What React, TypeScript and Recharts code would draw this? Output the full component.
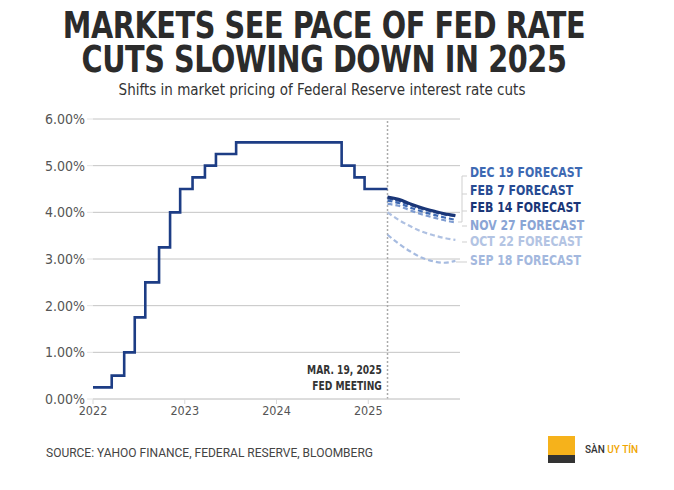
import React from "react";
import { LineChart, Line, XAxis, YAxis, CartesianGrid, ReferenceLine } from "recharts";

const rateDates = [2022.0, 2022.204, 2022.34, 2022.455, 2022.57, 2022.72, 2022.84, 2022.95, 2023.085, 2023.22, 2023.34, 2023.56, 2024.71, 2024.85, 2024.96, 2025.21];
const rateValues = [0.25, 0.5, 1.0, 1.75, 2.5, 3.25, 4.0, 4.5, 4.75, 5.0, 5.25, 5.5, 5.0, 4.75, 4.5, 4.5];

const fcDates = [2025.21, 2025.33, 2025.46, 2025.58, 2025.71, 2025.83, 2025.95];
const feb14 = [4.33, 4.28, 4.18, 4.1, 4.03, 3.97, 3.93];
const feb7 = [4.3, 4.25, 4.16, 4.08, 4.01, 3.96, 3.92];
const dec19 = [4.25, 4.2, 4.1, 4.02, 3.95, 3.89, 3.84];
const nov27 = [4.18, 4.14, 4.04, 3.96, 3.89, 3.83, 3.78];
const oct22 = [4.0, 3.84, 3.7, 3.59, 3.51, 3.45, 3.41];
const sep18 = [3.52, 3.33, 3.16, 3.03, 2.95, 2.92, 2.96];

const yTicks = [0, 1, 2, 3, 4, 5, 6];
const xTicks = [2022, 2023, 2024, 2025];
const fedMeeting = 2025.21;

const rateData = rateDates.map((x, i) => ({ x, v: rateValues[i] }));
const mk = (arr: number[]) => fcDates.map((x, i) => ({ x, v: arr[i] }));

const COND = "'DejaVu Sans Condensed', 'Roboto', sans-serif";

const titleLines = ["MARKETS SEE PACE OF FED RATE", "CUTS SLOWING DOWN IN 2025"];

const forecastLabels = [
  { text: "DEC 19 FORECAST", color: "#3d69b3", y: 165 },
  { text: "FEB 7 FORECAST", color: "#274b93", y: 183 },
  { text: "FEB 14 FORECAST", color: "#1a3677", y: 200 },
  { text: "NOV 27 FORECAST", color: "#8aa5d5", y: 218 },
  { text: "OCT 22 FORECAST", color: "#b3c4e3", y: 234 },
  { text: "SEP 18 FORECAST", color: "#a3b8de", y: 253 },
];

export default function App() {
  return (
    <div style={{ position: "absolute", left: 0, top: 0, width: 674, height: 490, background: "#fff", fontFamily: COND, overflow: "hidden" }}>
      {titleLines.map((t, i) => (
        <div key={t} style={{ position: "absolute", left: 0, top: 10 + i * 34, width: 648, height: 32, textAlign: "center", fontWeight: 700, fontSize: 38, lineHeight: "30px", color: "#2b2b2b", letterSpacing: -0.5, transform: "scaleX(0.84)", transformOrigin: "324px 0", whiteSpace: "nowrap" }}>
          {t}
        </div>
      ))}
      <div style={{ position: "absolute", left: 0, top: 81, width: 644, textAlign: "center", fontSize: 15, color: "#333" }}>
        Shifts in market pricing of Federal Reserve interest rate cuts
      </div>
      <div style={{ position: "absolute", left: 0, top: 0 }}>
        <LineChart width={674} height={490} margin={{ top: 119, right: 214, bottom: 61, left: 0 }}>
          <CartesianGrid horizontal vertical={false} stroke="#c4c4c4" strokeWidth={1} />
          <XAxis
            dataKey="x"
            type="number"
            domain={[2022, 2026]}
            ticks={xTicks}
            height={30}
            allowDuplicatedCategory={false}
            stroke="#d8d8d8"
            tickLine={{ stroke: "#d8d8d8" }}
            tickSize={5}
            tick={{ fill: "#555", fontSize: 12.5, fontFamily: COND }}
          />
          <YAxis
            type="number"
            domain={[0, 6]}
            ticks={yTicks}
            width={93}
            axisLine={false}
            tickLine={{ stroke: "#e4e4e4" }}
            tickSize={6}
            tickFormatter={(v: number) => `${v.toFixed(2)}%`}
            tick={{ fill: "#555", fontSize: 14, fontFamily: COND }}
          />
          <ReferenceLine x={fedMeeting} stroke="#aaa" strokeWidth={1.5} strokeDasharray="2 2" />
          <Line data={rateData} dataKey="v" type="stepAfter" stroke="#1d3d85" strokeWidth={2.6} dot={false} isAnimationActive={false} />
          <Line data={mk(sep18)} dataKey="v" type="monotone" stroke="#a6bbe0" strokeWidth={2.2} strokeDasharray="5 3" dot={false} isAnimationActive={false} />
          <Line data={mk(oct22)} dataKey="v" type="monotone" stroke="#afc1e2" strokeWidth={2.2} strokeDasharray="5 3" dot={false} isAnimationActive={false} />
          <Line data={mk(nov27)} dataKey="v" type="monotone" stroke="#7e9cd1" strokeWidth={2.2} strokeDasharray="5 3" dot={false} isAnimationActive={false} />
          <Line data={mk(dec19)} dataKey="v" type="monotone" stroke="#3d69b3" strokeWidth={2.2} strokeDasharray="5 3" dot={false} isAnimationActive={false} />
          <Line data={mk(feb7)} dataKey="v" type="monotone" stroke="#2b4f99" strokeWidth={2.4} strokeDasharray="6 2" dot={false} isAnimationActive={false} />
          <Line data={mk(feb14)} dataKey="v" type="monotone" stroke="#1a3677" strokeWidth={3} dot={false} isAnimationActive={false} />
        </LineChart>
      </div>
      <div style={{ position: "absolute", right: 674 - 382, top: 362, textAlign: "right", fontWeight: 700, fontSize: 13, lineHeight: "16px", color: "#333", transform: "scaleX(0.78)", transformOrigin: "100% 0", whiteSpace: "nowrap" }}>
        MAR. 19, 2025<br />FED MEETING
      </div>
      <svg style={{ position: "absolute", left: 0, top: 0 }} width={674} height={490}>
        <g stroke="#cfcfcf" strokeWidth={1} fill="none">
          <path d="M462,176 L462,222 L458,222" />
          <path d="M462,176 L467,176" />
          <path d="M462,194 L467,194" />
          <path d="M462,211 L467,211" />
          <path d="M462,226 L467,226" />
          <path d="M462,242 L467,242" />
          <path d="M456,262 L467,262" />
        </g>
      </svg>
      {forecastLabels.map((l) => (
        <div key={l.text} style={{ position: "absolute", left: 470, top: l.y, fontWeight: 700, fontSize: 14, lineHeight: "14px", color: l.color, whiteSpace: "nowrap", transform: "scaleX(0.87)", transformOrigin: "0 0" }}>
          {l.text}
        </div>
      ))}
      <div style={{ position: "absolute", left: 46, top: 446, fontSize: 12, color: "#444", fontFamily: "'Roboto', sans-serif" }}>
        SOURCE: YAHOO FINANCE, FEDERAL RESERVE, BLOOMBERG
      </div>
      <div style={{ position: "absolute", left: 548, top: 436, width: 27, height: 26, background: "#f6b21b", borderBottomRightRadius: 2 }} />
      <div style={{ position: "absolute", left: 548, top: 455, width: 27, height: 8, background: "#333" }} />
      <div style={{ position: "absolute", left: 585, top: 444, fontSize: 10, fontFamily: "'Roboto', sans-serif", fontWeight: 500, whiteSpace: "nowrap" }}>
        <span style={{ color: "#333" }}>SÀN </span><span style={{ color: "#f0a500" }}>UY TÍN</span>
      </div>
    </div>
  );
}
